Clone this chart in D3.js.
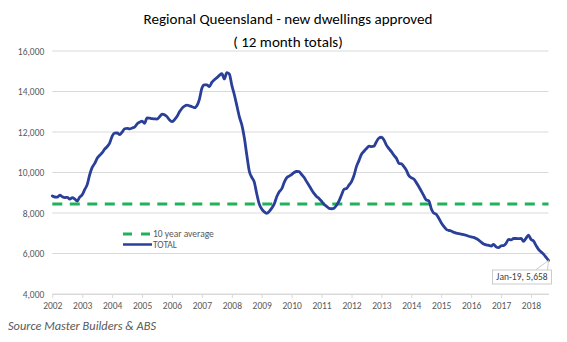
<!DOCTYPE html>
<html>
<head>
<meta charset="utf-8">
<script src="https://cdn.jsdelivr.net/npm/d3@7"></script>
<style>
  html, body { margin: 0; padding: 0; background: #fff; }
  svg { display: block; }
  text { font-family: Carlito, Calibri, Lato, "Open Sans", sans-serif; }
</style>
</head>
<body>
<svg id="chart" width="567" height="342"></svg>
<script>
// Regional Queensland — new dwellings approved, rolling 12-month totals (monthly, Jun 2002 – Jan 2019)
const firstMonth = new Date(2002, 5, 1);
const totals = [
  8840, 8790, 8780, 8880, 8800, 8760, 8775, 8690, 8760, 8700,
  8590, 8780, 8900, 9150, 9400, 9900, 10250, 10450, 10700, 10850,
  10980, 11150, 11280, 11450, 11800, 11950, 11960, 11870, 12000, 12160,
  12180, 12150, 12200, 12240, 12400, 12480, 12540, 12430, 12700, 12680,
  12660, 12650, 12640, 12750, 12880, 12850, 12760, 12600, 12510, 12600,
  12760, 13000, 13170, 13280, 13330, 13290, 13250, 13200, 13300, 13600,
  14160, 14330, 14330, 14240, 14450, 14580, 14680, 14800, 14880, 14620,
  14930, 14870, 14300, 13850, 13300, 12750, 12350, 11700, 10850, 10050,
  9750, 9540, 8950, 8450, 8200, 8060, 7985, 8080, 8240, 8450,
  8800, 9050, 9200, 9500, 9730, 9820, 9900, 10000, 10050, 10040,
  9900, 9750, 9550, 9350, 9140, 8970, 8820, 8720, 8580, 8430,
  8330, 8230, 8210, 8240, 8380, 8600, 8900, 9170, 9210, 9380,
  9550, 9850, 10300, 10600, 10900, 11050, 11180, 11300, 11280, 11300,
  11520, 11700, 11740, 11620, 11350, 11180, 11030, 10850, 10700, 10450,
  10430, 10300, 10120, 9850, 9740, 9680, 9500, 9300, 9080, 8850,
  8640, 8600, 8200, 8000, 7940, 7750, 7520, 7350, 7200, 7140,
  7110, 7050, 7010, 6980, 6960, 6930, 6900, 6850, 6820, 6800,
  6740, 6660, 6560, 6470, 6430, 6400, 6370, 6450, 6330, 6290,
  6380, 6390, 6500, 6700, 6670, 6740, 6740, 6730, 6750, 6600,
  6750, 6910, 6700, 6620, 6400, 6200, 6080, 5970, 5820, 5658
];
const tenYearAverage = 8450;
const yTicks = [4000, 6000, 8000, 10000, 12000, 14000, 16000];
const yearLabels = ["2002","2003","2004","2005","2006","2007","2008","2009","2010",
                    "2011","2012","2013","2014","2015","2016","2017","2018"];
const seriesNames = ["10 year average", "TOTAL"];
const titleLines = ["Regional Queensland - new dwellings approved", "( 12 month totals)"];
const sourceNote = "Source Master Builders & ABS";

const points = totals.map((v, i) => ({ date: d3.timeMonth.offset(firstMonth, i), value: v }));
const lastPoint = points[points.length - 1];

const svg = d3.select("#chart");
const plot = { left: 52.3, right: 548.5, top: 51, bottom: 294 };

const x = d3.scaleTime()
  .domain([firstMonth, lastPoint.date])
  .range([plot.left, plot.right]);
const y = d3.scaleLinear()
  .domain([4000, 16000])
  .range([plot.bottom, plot.top]);

const blue = "#2a3f98";
const green = "#1fb25a";
const gridColor = "#d9d9d9";
const labelColor = "#595959";

// Size a text element so it spans roughly the given width
function fitWidth(sel, base, width, maxSize) {
  const w = sel.node().getComputedTextLength();
  const size = Math.min(maxSize, base * width / w);
  sel.style("font-size", size.toFixed(2) + "px");
  return size;
}

// Title: both lines share one size, chosen so the first line spans ~289px
const titleBaselines = [24, 47];
const titleTexts = svg.append("g")
  .selectAll("text")
  .data(titleLines)
  .join("text")
  .attr("x", 288).attr("y", (d, i) => titleBaselines[i])
  .attr("text-anchor", "middle")
  .attr("fill", "#000")
  .style("font-size", "16px")
  .text(d => d);
const firstWidth = titleTexts.nodes()[0].getComputedTextLength();
titleTexts.style("font-size", Math.min(17, 16 * 289 / firstWidth).toFixed(2) + "px");

// Horizontal gridlines
svg.append("g")
  .selectAll("line")
  .data(yTicks)
  .join("line")
  .attr("x1", plot.left).attr("x2", plot.right)
  .attr("y1", d => y(d)).attr("y2", d => y(d))
  .attr("stroke", gridColor).attr("stroke-width", 1);

// Y axis labels
const yAxis = d3.axisLeft(y)
  .tickValues(yTicks)
  .tickFormat(d3.format(","))
  .tickSize(0)
  .tickPadding(8);
svg.append("g")
  .attr("transform", `translate(${plot.left},0)`)
  .call(yAxis)
  .call(g => g.select(".domain").remove())
  .call(g => g.selectAll("text")
    .attr("fill", labelColor)
    .style("font-size", "9.5px")
    .style("font-family", "Carlito, Calibri, Lato, sans-serif"));

// X axis: one tick per year, counted from the first month
const yearTicks = yearLabels.map((_, k) => d3.timeMonth.offset(firstMonth, 12 * k));
const xAxis = d3.axisBottom(x)
  .tickValues(yearTicks)
  .tickFormat((d, k) => yearLabels[k])
  .tickSize(4)
  .tickSizeOuter(0)
  .tickPadding(4);
svg.append("g")
  .attr("transform", `translate(0,${plot.bottom})`)
  .call(xAxis)
  .call(g => g.select(".domain").attr("stroke", gridColor))
  .call(g => g.selectAll(".tick line").attr("stroke", gridColor))
  .call(g => g.selectAll("text")
    .attr("fill", labelColor)
    .style("font-size", "9.5px")
    .style("font-family", "Carlito, Calibri, Lato, sans-serif"));

// Ten-year average reference line
svg.append("line")
  .attr("x1", plot.left).attr("x2", plot.right)
  .attr("y1", y(tenYearAverage)).attr("y2", y(tenYearAverage))
  .attr("stroke", green).attr("stroke-width", 3)
  .attr("stroke-dasharray", "10,7.5");

// Total series
const line = d3.line()
  .x(d => x(d.date))
  .y(d => y(d.value))
  .curve(d3.curveMonotoneX);
svg.append("path")
  .datum(points)
  .attr("d", line)
  .attr("fill", "none")
  .attr("stroke", blue)
  .attr("stroke-width", 2.8)
  .attr("stroke-linejoin", "round")
  .attr("stroke-linecap", "round");

// Legend
const legend = svg.append("g").attr("transform", "translate(123,234)");
legend.append("line")
  .attr("x1", 0).attr("x2", 28).attr("y1", 0).attr("y2", 0)
  .attr("stroke", green).attr("stroke-width", 3).attr("stroke-dasharray", "9,9");
legend.append("line")
  .attr("x1", 0).attr("x2", 29).attr("y1", 10.5).attr("y2", 10.5)
  .attr("stroke", blue).attr("stroke-width", 2.5);
legend.selectAll("text.lbl")
  .data(seriesNames)
  .join("text")
  .attr("class", "lbl")
  .attr("x", 30).attr("y", (d, i) => i * 10.5)
  .attr("dy", "0.35em")
  .attr("fill", labelColor)
  .style("font-size", "9.5px")
  .text(d => d);

// Callout for the latest value
const px = x(lastPoint.date), py = y(lastPoint.value);
const box = { x: 492.5, y: 270, w: 59, h: 14 };
svg.append("path")
  .attr("d", `M${box.x + 43},${box.y} L${px},${py} L${box.x + 55},${box.y}`)
  .attr("fill", "#fff").attr("stroke", "#bfbfbf").attr("stroke-width", 0.8);
svg.append("rect")
  .attr("x", box.x).attr("y", box.y).attr("width", box.w).attr("height", box.h)
  .attr("fill", "#fff").attr("stroke", "#bfbfbf").attr("stroke-width", 0.8);
svg.append("text")
  .attr("x", box.x + box.w / 2).attr("y", box.y + box.h / 2)
  .attr("dy", "0.35em").attr("text-anchor", "middle")
  .attr("fill", "#404040")
  .style("font-size", "9.5px")
  .text(`${d3.timeFormat("%b-%y")(lastPoint.date)}, ${d3.format(",")(lastPoint.value)}`);

// Source note
const source = svg.append("text")
  .attr("x", 8).attr("y", 330)
  .attr("fill", labelColor)
  .style("font-size", "11px")
  .style("font-style", "italic")
  .text(sourceNote);
fitWidth(source, 11, 148, 12.5);
</script>
</body>
</html>
